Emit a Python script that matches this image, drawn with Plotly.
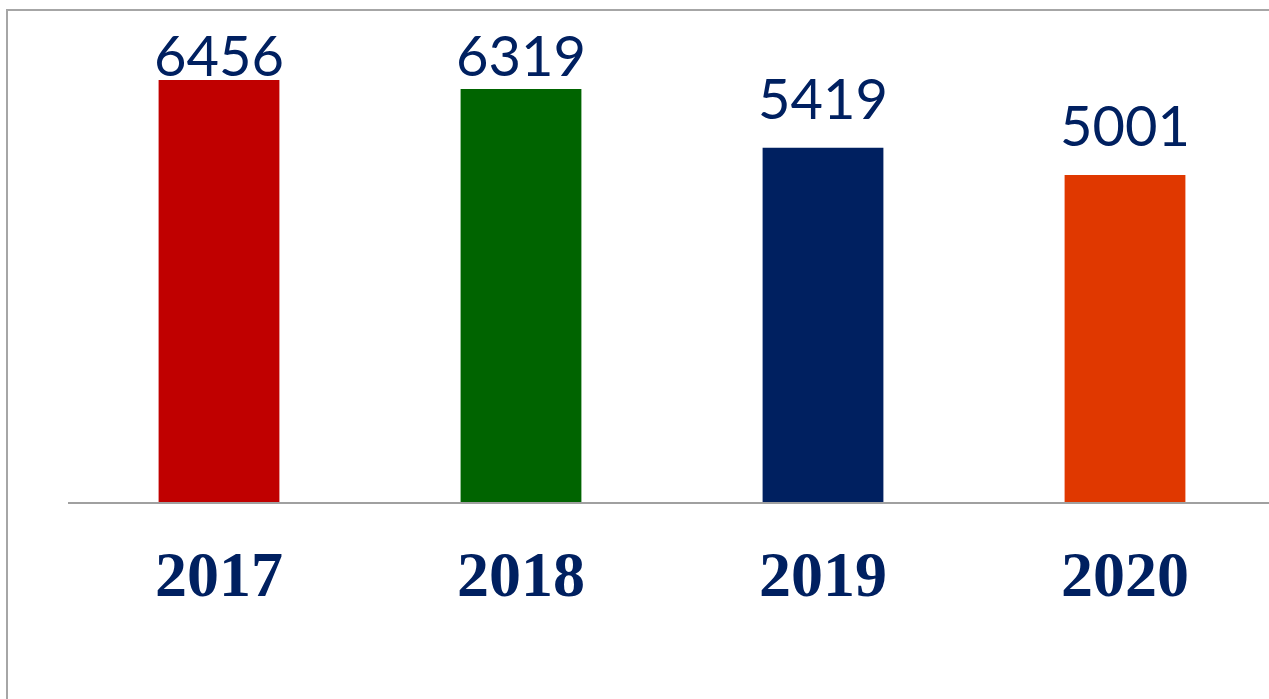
import plotly.graph_objects as go

years = ["2017", "2018", "2019", "2020"]
values = [6456, 6319, 5419, 5001]
colors = ["#C00000", "#006400", "#002060", "#E03800"]

W, H = 1269, 699
L, T, B_PIX = 68, 10, 502
plot_h = B_PIX - T
k = 422 / 6456  # px per unit
ymax = plot_h / k
xmax = -0.5 + (W - L) / 302

gap = 15 / k
cap = (B_PIX - 90) / k
label_y = [min(v + gap, cap) for v in values]

fig = go.Figure()
fig.add_trace(go.Bar(x=years, y=values, marker=dict(color=colors, line=dict(width=0)),
                     width=0.4, hoverinfo="skip"))
fig.add_trace(go.Scatter(x=years, y=label_y, mode="text", text=[str(v) for v in values],
                         textposition="top center", cliponaxis=False, hoverinfo="skip",
                         textfont=dict(family="Lato", size=56, color="#002060")))

fig.add_shape(type="rect", xref="paper", yref="paper",
              x0=(7 - L) / (W - L), x1=1.02, y0=(B_PIX - 720) / plot_h, y1=1.0,
              line=dict(color="#A6A6A6", width=2), layer="below")

fig.update_layout(
    width=W, height=H, margin=dict(l=L, r=0, t=T, b=H - B_PIX),
    plot_bgcolor="white", paper_bgcolor="white", showlegend=False,
    xaxis=dict(type="category", range=[-0.5, xmax], showgrid=False, zeroline=False, showline=True,
               linecolor="#A0A0A0", linewidth=2, ticks="", ticklabelstandoff=15,
               tickfont=dict(family="Liberation Serif", size=64, color="#002060", weight="bold")),
    yaxis=dict(range=[0, ymax], visible=False),
)
fig.write_html("out.html", config={"displayModeBar": False},
               post_script="document.body.style.margin='0';document.body.style.overflow='hidden';")
